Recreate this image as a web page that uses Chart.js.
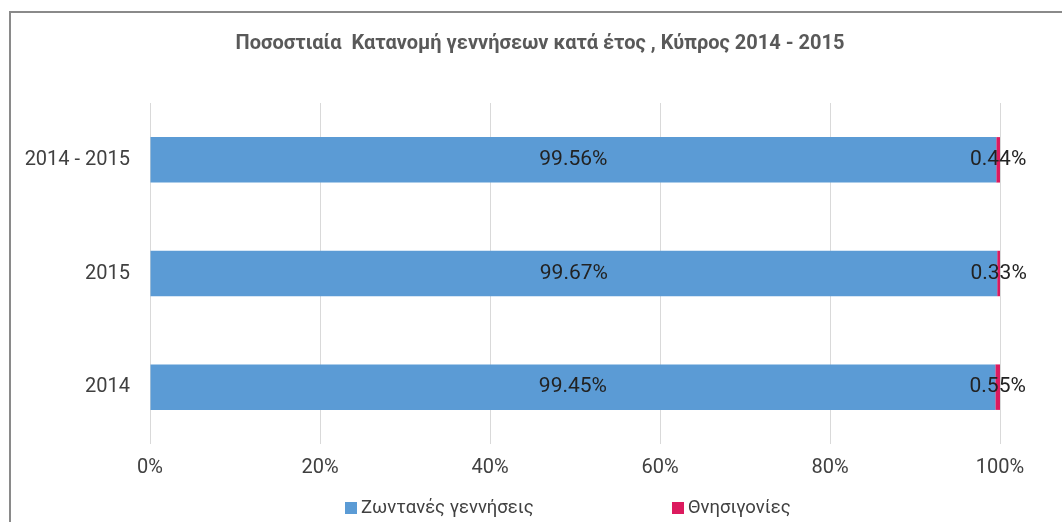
<!DOCTYPE html>
<html>
<head>
<meta charset="utf-8">
<script src="https://cdn.jsdelivr.net/npm/chart.js@4"></script>
<style>
  html, body { margin: 0; padding: 0; background: #fff; overflow: hidden; }
  #frame {
    position: absolute; left: 9px; top: 11px; width: 1200px; height: 600px;
    border-left: 2px solid #8a8a8a; border-top: 2px solid #8a8a8a;
  }
  #chart { position: absolute; left: 0; top: 0; }
</style>
</head>
<body>
<div id="frame"></div>
<canvas id="chart" width="1062" height="522"></canvas>
<script>
// Datos del gráfico
const categories = ["2014 - 2015", "2015", "2014"];
const liveBirths = [99.56, 99.67, 99.45];
const stillBirths = [0.44, 0.33, 0.55];
const seriesNames = ["Ζωντανές γεννήσεις", "Θνησιγονίες"];
const xTicks = [0, 20, 40, 60, 80, 100];

const FONT = "Roboto, 'Noto Sans', sans-serif";

// Etiquetas de valor dentro de cada segmento
const valueLabels = {
  id: "valueLabels",
  afterDatasetsDraw(chart) {
    const ctx = chart.ctx;
    ctx.save();
    ctx.font = "21px " + FONT;
    ctx.fillStyle = "#222";
    ctx.textAlign = "center";
    ctx.textBaseline = "middle";
    chart.data.datasets.forEach((ds, i) => {
      const meta = chart.getDatasetMeta(i);
      meta.data.forEach((bar, j) => {
        const cx = (bar.x + bar.base) / 2;
        ctx.fillText(ds.data[j].toFixed(2) + "%", cx, bar.y);
      });
    });
    ctx.restore();
  }
};

// Leyenda abajo, con el espaciado de Excel
const bottomLegend = {
  id: "bottomLegend",
  afterDraw(chart) {
    const ctx = chart.ctx;
    const startX = [345, 672];
    const y = 508;
    ctx.save();
    ctx.font = "18.5px " + FONT;
    ctx.textBaseline = "middle";
    ctx.textAlign = "left";
    chart.data.datasets.forEach((ds, i) => {
      ctx.fillStyle = ds.backgroundColor;
      ctx.fillRect(startX[i], y - 6, 12, 12);
      ctx.fillStyle = "#404040";
      ctx.fillText(ds.label, startX[i] + 16, y);
    });
    ctx.restore();
  }
};

const chart = new Chart(document.getElementById("chart"), {
  type: "bar",
  data: {
    labels: categories,
    datasets: [
      { label: seriesNames[0], data: liveBirths, backgroundColor: "#5b9bd5" },
      { label: seriesNames[1], data: stillBirths, backgroundColor: "#dc1a5e" }
    ]
  },
  options: {
    indexAxis: "y",
    responsive: false,
    animation: false,
    barPercentage: 0.4,
    categoryPercentage: 1,
    layout: { padding: { left: 18, right: 0, top: 0, bottom: 42 } },
    plugins: {
      legend: { display: false },
      tooltip: { enabled: false },
      title: {
        display: true,
        text: "Ποσοστιαία  Κατανομή γεννήσεων κατά έτος , Κύπρος 2014 - 2015",
        color: "#595959",
        font: { family: FONT, size: 20, weight: "bold" },
        padding: { top: 32, bottom: 47 }
      }
    },
    scales: {
      x: {
        stacked: true,
        min: 0,
        max: 100,
        afterBuildTicks: (scale) => { scale.ticks = xTicks.map(v => ({ value: v })); },
        afterFit: (scale) => { scale.height = 36; },
        ticks: {
          callback: v => v + "%",
          color: "#404040",
          font: { family: FONT, size: 20 },
          padding: 12,
          maxRotation: 0
        },
        grid: { color: "#d9d9d9", drawTicks: false },
        border: { display: false }
      },
      y: {
        stacked: true,
        afterFit: (scale) => { scale.width = 132; },
        ticks: {
          color: "#404040",
          font: { family: FONT, size: 20 },
          padding: 20
        },
        grid: { display: false, drawTicks: false },
        border: { display: false }
      },
      // eje vacío a la derecha para dejar el margen de Excel
      yRight: {
        type: "category",
        labels: categories,
        position: "right",
        afterFit: (scale) => { scale.width = 62; },
        ticks: { display: false },
        grid: { display: false, drawTicks: false },
        border: { display: false }
      }
    }
  },
  plugins: [valueLabels, bottomLegend]
});
</script>
</body>
</html>
